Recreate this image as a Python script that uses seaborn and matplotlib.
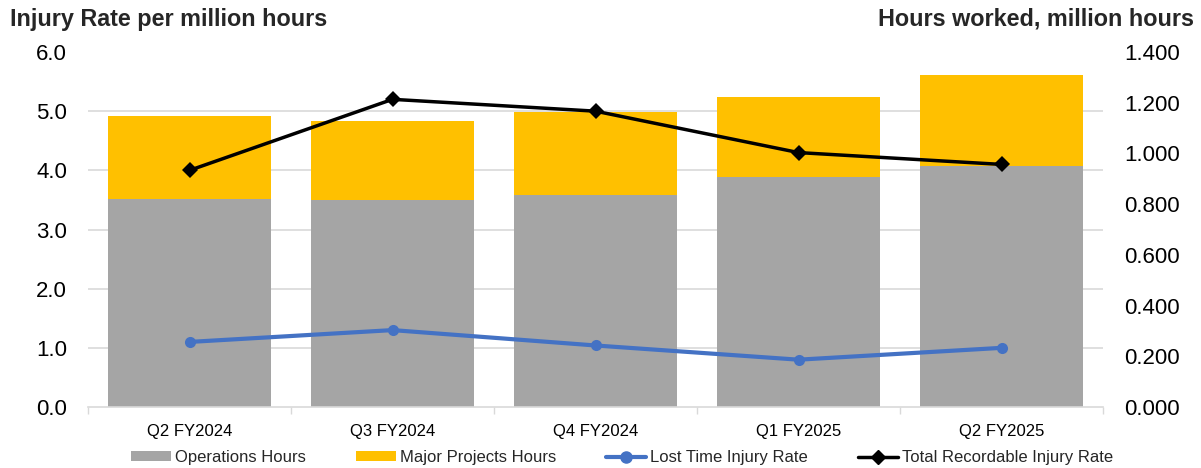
import matplotlib
matplotlib.use("Agg")
import matplotlib.pyplot as plt
import seaborn as sns
import numpy as np
from matplotlib.patches import Patch
from matplotlib.lines import Line2D

quarters = ["Q2 FY2024", "Q3 FY2024", "Q4 FY2024", "Q1 FY2025", "Q2 FY2025"]
operations_hours = [0.819, 0.818, 0.837, 0.906, 0.951]
major_projects_hours = [0.328, 0.311, 0.327, 0.315, 0.358]
lost_time_injury_rate = [1.1, 1.3, 1.04, 0.8, 1.0]
total_recordable_injury_rate = [4.0, 5.2, 5.0, 4.3, 4.1]

left_ticks = [0.0, 1.0, 2.0, 3.0, 4.0, 5.0, 6.0]
right_ticks = [0.0, 0.2, 0.4, 0.6, 0.8, 1.0, 1.2, 1.4]

sns.set_theme(style="white")
plt.rcParams["font.family"] = ["Liberation Sans", "DejaVu Sans"]

GRAY = "#A5A5A5"
GOLD = "#FFC000"
BLUE = "#4472C4"

fig = plt.figure(figsize=(12.01, 4.68), dpi=100)
ax_rate = fig.add_axes([0.0733, 0.1303, 0.9184 - 0.0733, 0.8889 - 0.1303])
ax_hours = ax_rate.twinx()

# bars (hours) on the lower layer
total_hours = [o + m for o, m in zip(operations_hours, major_projects_hours)]
sns.barplot(x=quarters, y=total_hours, ax=ax_hours, color=GOLD, saturation=1,
            width=0.8, linewidth=0, order=quarters, zorder=2)
sns.barplot(x=quarters, y=operations_hours, ax=ax_hours, color=GRAY, saturation=1,
            width=0.8, linewidth=0, order=quarters, zorder=2)

ax_hours.set_ylim(0, 1.4)
ax_hours.set_yticks(right_ticks)
ax_hours.set_yticklabels([f"{v:.3f}" for v in right_ticks])
# gridlines aligned with left axis ticks, drawn behind bars
ax_hours.set_yticks([v * 1.4 / 6.0 for v in left_ticks], minor=True)
ax_hours.grid(False)
ax_hours.grid(True, which="minor", axis="y", color="#D9D9D9", linewidth=1.2, zorder=0)
ax_hours.set_axisbelow(True)
ax_hours.tick_params(axis="y", which="major", length=0, pad=15, labelsize=16, colors="black")
ax_hours.tick_params(axis="y", which="minor", length=0)
ax_hours.set_ylabel("")

# lines (rates) on the upper layer
ax_rate.set_zorder(ax_hours.get_zorder() + 1)
ax_rate.patch.set_visible(False)
sns.lineplot(x=quarters, y=lost_time_injury_rate, ax=ax_rate, color=BLUE,
             linewidth=3, marker="o", markersize=8, markeredgewidth=0)
sns.lineplot(x=quarters, y=total_recordable_injury_rate, ax=ax_rate, color="black",
             linewidth=2.5, marker="D", markersize=8, markeredgewidth=0)
ax_rate.set_ylim(0, 6)
ax_rate.set_yticks(left_ticks)
ax_rate.set_yticklabels([f"{v:.1f}" for v in left_ticks])
ax_rate.grid(False)
ax_rate.tick_params(axis="y", length=0, pad=15, labelsize=16, colors="black")
ax_rate.set_ylabel("")

ax_rate.set_xlim(-0.5, len(quarters) - 0.5)
ax_rate.set_xticks(range(len(quarters)))
ax_rate.set_xticklabels(quarters)
ax_rate.set_xticks(np.arange(-0.5, len(quarters), 1.0), minor=True)
ax_rate.tick_params(axis="x", which="major", length=0, pad=12, labelsize=12, colors="black")
ax_rate.tick_params(axis="x", which="minor", length=5, width=1, color="#D9D9D9", bottom=True)
ax_hours.set_xlabel("")
ax_rate.set_xlabel("")

for a in (ax_rate, ax_hours):
    for s in ("top", "left", "right", "bottom"):
        a.spines[s].set_visible(False)
ax_rate.spines["bottom"].set_visible(True)
ax_rate.spines["bottom"].set_color("#D9D9D9")
ax_rate.spines["bottom"].set_linewidth(1.2)

fig.text(0.008, 0.983, "Injury Rate per million hours", fontsize=16.8, fontweight="bold",
         ha="left", va="top")
fig.text(0.994, 0.983, "Hours worked, million hours", fontsize=16.8, fontweight="bold",
         ha="right", va="top")

handles = [
    Patch(facecolor=GRAY, edgecolor="none"),
    Patch(facecolor=GOLD, edgecolor="none"),
    Line2D([], [], color=BLUE, linewidth=3, marker="o", markersize=8),
    Line2D([], [], color="black", linewidth=2.5, marker="D", markersize=7),
]
labels = ["Operations Hours", "Major Projects Hours", "Lost Time Injury Rate",
          "Total Recordable Injury Rate"]
leg = ax_hours.legend(handles, labels, loc="center", bbox_to_anchor=(0.518, 0.022),
                      bbox_transform=fig.transFigure, ncol=4, frameon=False, fontsize=12,
                      handlelength=2.4, handleheight=0.55, handletextpad=0.25,
                      columnspacing=3.0)
if ax_rate.get_legend() is not None:
    ax_rate.get_legend().remove()

fig.savefig("out.png", dpi=100)
